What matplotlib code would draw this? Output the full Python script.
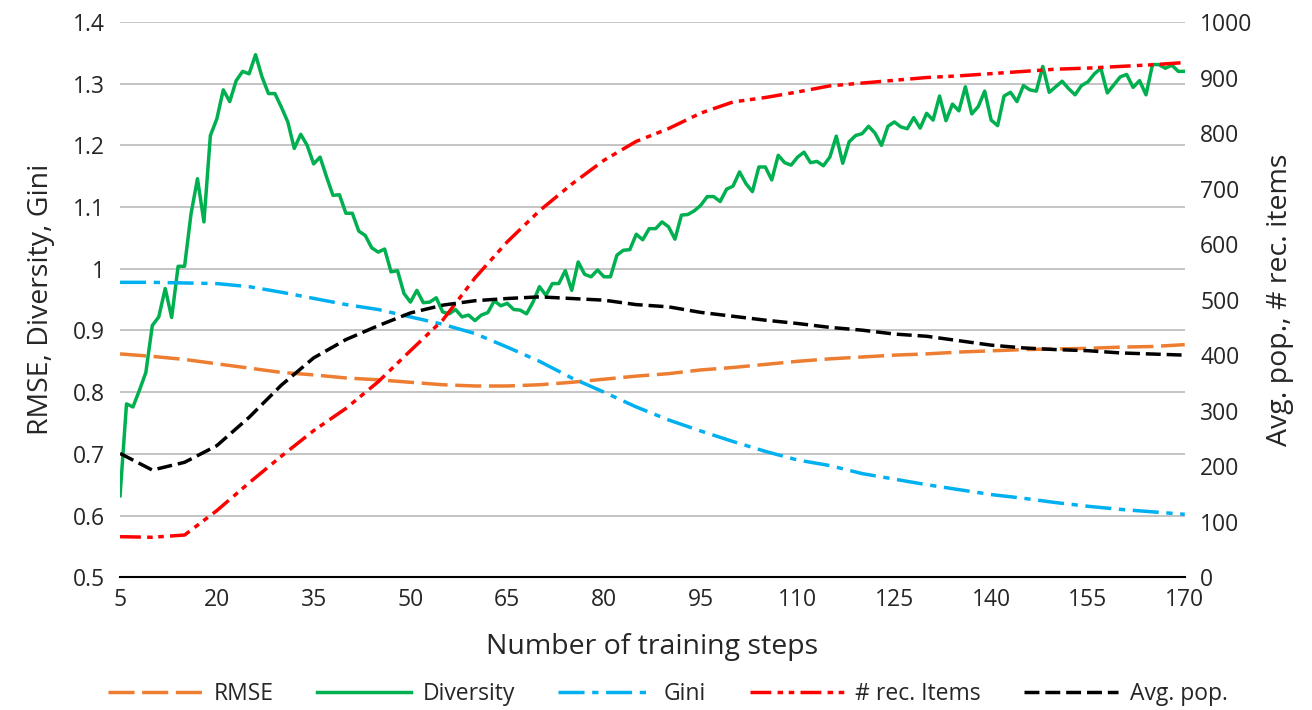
import numpy as np
import matplotlib.pyplot as plt

plt.rcParams['font.family'] = ['Open Sans', 'DejaVu Sans']

# --- data ---
# Diversity is drawn at every training step (5..170)
diversity = [0.632, 0.781, 0.776, 0.803, 0.832, 0.908, 0.922, 0.968, 0.921, 1.004,
             1.004, 1.089, 1.146, 1.076, 1.216, 1.243, 1.290, 1.271, 1.305, 1.320,
             1.316, 1.347, 1.311, 1.284, 1.284, 1.262, 1.238, 1.195, 1.218, 1.200,
             1.170, 1.181, 1.149, 1.119, 1.120, 1.090, 1.090, 1.061, 1.054, 1.034,
             1.027, 1.032, 0.995,
             0.997, 0.960, 0.946, 0.965, 0.945, 0.946, 0.953, 0.930, 0.927, 0.934,
             0.922, 0.925, 0.916, 0.925, 0.929, 0.948, 0.940, 0.944, 0.934, 0.933,
             0.927, 0.946, 0.971, 0.957, 0.976, 0.976, 0.997, 0.965, 1.011, 0.991,
             0.987, 0.998, 0.987, 0.987, 1.022, 1.030, 1.031, 1.056, 1.047, 1.065,
             1.065,
             1.076, 1.068, 1.048, 1.087, 1.088, 1.094, 1.103, 1.117, 1.117, 1.109,
             1.129, 1.134, 1.157, 1.138, 1.125, 1.165, 1.165, 1.144, 1.184, 1.172,
             1.168, 1.181, 1.189, 1.172, 1.174, 1.167, 1.181, 1.215, 1.171, 1.206,
             1.216, 1.219, 1.231, 1.220, 1.200, 1.231, 1.238, 1.230, 1.227, 1.245,
             1.228, 1.252, 1.241, 1.280,
             1.240, 1.267, 1.256, 1.295, 1.251, 1.263, 1.288, 1.241, 1.232, 1.280,
             1.286, 1.271, 1.297, 1.290, 1.288, 1.328, 1.286, 1.295, 1.304, 1.292,
             1.282, 1.297, 1.303, 1.316, 1.325, 1.285, 1.298, 1.311, 1.315, 1.294,
             1.305, 1.282, 1.331, 1.331, 1.325, 1.330, 1.320, 1.320]
steps = np.arange(5, 5 + len(diversity))

# the smooth series, read every 5 steps
steps5 = np.arange(5, 171, 5)
rmse = [0.862, 0.858, 0.853, 0.846, 0.839, 0.832, 0.828, 0.823, 0.820, 0.816,
        0.812, 0.810, 0.810, 0.812, 0.816, 0.821, 0.826, 0.830, 0.836, 0.840,
        0.845, 0.850, 0.854, 0.857, 0.860, 0.862, 0.865, 0.867, 0.869, 0.870,
        0.871, 0.873, 0.874, 0.877]
gini = [0.978, 0.978, 0.977, 0.976, 0.971, 0.962, 0.952, 0.942, 0.934, 0.922,
        0.910, 0.895, 0.873, 0.850, 0.823, 0.800, 0.776, 0.755, 0.737, 0.720,
        0.704, 0.690, 0.681, 0.668, 0.659, 0.650, 0.642, 0.634, 0.628, 0.621,
        0.615, 0.610, 0.606, 0.602]
rec_items = [73, 72, 76, 120, 170, 218, 264, 304, 352, 408,
             463, 539, 604, 660, 708, 751, 785, 808, 836, 856,
             864, 874, 885, 890, 895, 900, 903, 907, 911, 915,
             917, 920, 923, 927]
avg_pop = [223, 193, 207, 237, 288, 346, 395, 428, 453, 476,
           490, 498, 502, 505, 502, 499, 491, 487, 477, 470,
           463, 457, 450, 445, 438, 434, 426, 418, 413, 410,
           408, 404, 402, 400]

fig = plt.figure(figsize=(13.12, 7.1), dpi=100)
ax = fig.add_axes([0.0915, 0.187, 0.8115, 0.782])
ax2 = ax.twinx()

lw = 2.5
l1, = ax.plot(steps5, rmse, color='#ED7D31', lw=lw, dashes=(7.5, 2.2), label='RMSE')
l2, = ax.plot(steps, diversity, color='#00B050', lw=lw, label='Diversity')
l3, = ax.plot(steps5, gini, color='#00B0F0', lw=lw, dashes=(7.5, 2.2, 1.8, 2.2), label='Gini')
l4, = ax2.plot(steps5, rec_items, color='#FF0000', lw=lw,
               dashes=(6, 1.8, 1.6, 1.6, 1.6, 1.8), label='# rec. Items')
l5, = ax2.plot(steps5, avg_pop, color='black', lw=lw, dashes=(4.3, 1.7), label='Avg. pop.')

ax.set_xlim(5, 170)
ax.set_ylim(0.5, 1.4)
ax.set_yticks(np.arange(0.5, 1.41, 0.1))
ax.set_yticklabels(['0.5', '0.6', '0.7', '0.8', '0.9', '1', '1.1', '1.2', '1.3', '1.4'])
ax.set_xticks(np.arange(5, 171, 15))
ax2.set_ylim(0, 1000)
ax2.set_yticks(np.arange(0, 1001, 100))

ax.grid(axis='y', color='#BFBFBF', lw=1.3)
ax.set_axisbelow(True)
for a in (ax, ax2):
    for s in ('top', 'left', 'right'):
        a.spines[s].set_visible(False)
    a.tick_params(length=0, labelsize=16.5, colors='#262626')
ax.spines['bottom'].set_visible(False)
ax2.spines['bottom'].set_color('black')
ax2.spines['bottom'].set_linewidth(1.5)
ax.tick_params(axis='x', pad=8)
ax.tick_params(axis='y', pad=11)
ax2.tick_params(axis='y', pad=11)

ax.set_xlabel('Number of training steps', fontsize=20.5, labelpad=15, color='#262626')
ax.set_ylabel('RMSE, Diversity, Gini', fontsize=20.5, labelpad=13, color='#262626')
ax2.set_ylabel('Avg. pop., # rec. items', fontsize=20.5, labelpad=10, color='#262626')

fig.legend(handles=[l1, l2, l3, l4, l5], loc='center', bbox_to_anchor=(0.509, 0.022),
           ncol=5, frameon=False, fontsize=16.5, handlelength=4.1,
           columnspacing=1.9, handletextpad=0.5, labelcolor='#262626')

fig.savefig('out.png', dpi=100)
